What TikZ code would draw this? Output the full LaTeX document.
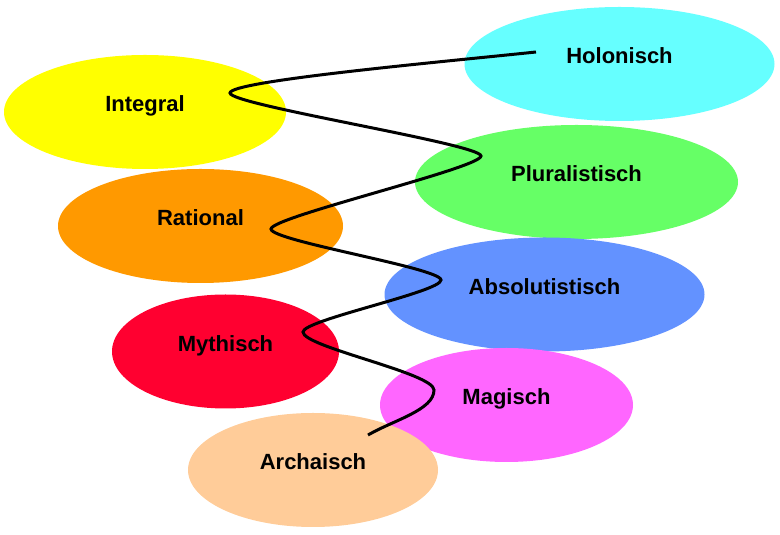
\documentclass[tikz,border=0pt]{standalone}
\usepackage{fontspec}
\setmainfont{Liberation Sans}
\usetikzlibrary{shapes.geometric}
\definecolor{stageCyan}{HTML}{66FFFF}
\definecolor{stageYellow}{HTML}{FFFF00}
\definecolor{stageGreen}{HTML}{66FF66}
\definecolor{stageOrange}{HTML}{FF9900}
\definecolor{stageBlue}{HTML}{6392FF}
\definecolor{stageRed}{HTML}{FF0030}
\definecolor{stageMagenta}{HTML}{FF66FF}
\definecolor{stagePeach}{HTML}{FFCC99}
\tikzset{
  stage/.style={ellipse, draw=none, inner sep=0pt, text height=0pt, text depth=0pt,
                font=\bfseries\fontsize{22}{26}\selectfont, minimum height=114pt},
  spiralLine/.style={line width=3pt, black},
}

\begin{document}
\begin{tikzpicture}[x=1pt, y=1pt]
  \useasboundingbox (0,0) rectangle (780,535);
  % stages, from top to bottom
  \node[stage, fill=stageCyan, minimum width=310pt] (holo) at (619.5,471) {Holonisch};
  \node[stage, fill=stageYellow, minimum width=282pt] (integ) at (145,423) {Integral};
  \node[stage, fill=stageGreen, minimum width=323pt] (plur) at (576.5,353) {Pluralistisch};
  \node[stage, fill=stageOrange, minimum width=285pt] (ratio) at (200.5,309) {Rational};
  \node[stage, fill=stageBlue, minimum width=320pt] (absol) at (544.5,240.5) {Absolutistisch};
  \node[stage, fill=stageRed, minimum width=227pt] (myth) at (225.5,183.5) {Mythisch};
  \node[stage, fill=stageMagenta, minimum width=253pt] (magi) at (506.5,130) {Magisch};
  \node[stage, fill=stagePeach, minimum width=250pt] (arch) at (313,65) {Archaisch};

  % turning points of the spiral
  \coordinate (sStart) at (368,100);
  \coordinate (tMagi) at (434,145);
  \coordinate (tMyth) at (303,203);
  \coordinate (tAbsol) at (441,255);
  \coordinate (tRatio) at (271,306);
  \coordinate (tPlur) at (481,379);
  \coordinate (tInteg) at (230,442);
  \coordinate (sEnd) at (536,483);

  \draw[spiralLine] (sStart) to[out=30, in=-90, out distance=30pt, in distance=20pt] (tMagi)
    to[out=90, in=-90, out distance=17pt, in distance=15pt] (tMyth)
    to[out=90, in=-90, out distance=12pt, in distance=12pt] (tAbsol)
    to[out=90, in=-90, out distance=12pt, in distance=12pt] (tRatio)
    to[out=90, in=-90, out distance=12pt, in distance=12pt] (tPlur)
    to[out=90, in=-90, out distance=12pt, in distance=12pt] (tInteg)
    to[out=90, in=186, out distance=12pt, in distance=100pt] (sEnd);
\end{tikzpicture}
\end{document}
